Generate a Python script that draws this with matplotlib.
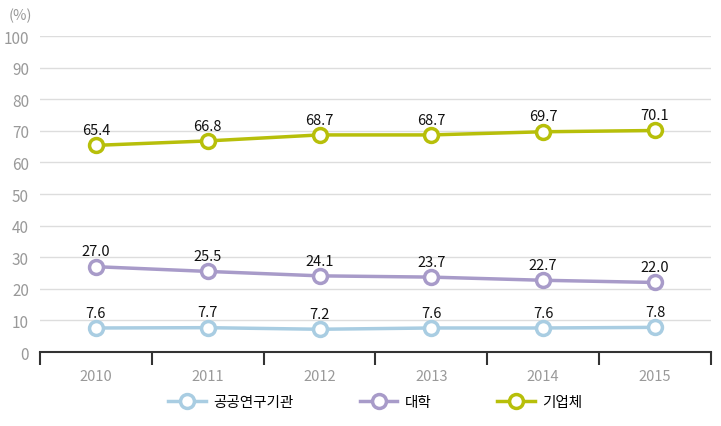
import matplotlib.pyplot as plt

plt.rcParams['font.family'] = ['Noto Sans CJK KR', 'DejaVu Sans']

years = ['2010', '2011', '2012', '2013', '2014', '2015']
public_lab = [7.6, 7.7, 7.2, 7.6, 7.6, 7.8]
university = [27.0, 25.5, 24.1, 23.7, 22.7, 22.0]
company = [65.4, 66.8, 68.7, 68.7, 69.7, 70.1]
names = ['공공연구기관', '대학', '기업체']
colors = ['#a9cde2', '#a89bc9', '#b7bf0a']

fig = plt.figure(figsize=(7.21, 4.27), dpi=100)
ax = fig.add_axes([0.0555, 0.1733, 0.9305, 0.74])

x = range(len(years))
for vals, name, c in zip([public_lab, university, company], names, colors):
    ax.plot(x, vals, color=c, lw=2.5, marker='o', ms=10, mfc='white',
            mec=c, mew=2.5, label=name, zorder=3)
    for xi, v in zip(x, vals):
        ax.annotate(f'{v:.1f}', (xi, v), xytext=(0, 6), textcoords='offset points',
                    ha='center', va='bottom', fontsize=10.5, color='#111111',
                    fontweight='medium')

ax.set_xlim(-0.5, 5.5)
ax.set_ylim(0, 100)
ax.set_yticks(range(0, 101, 10))
ax.set_xticks(x)
ax.set_xticklabels(years)
ax.set_xticks([i - 0.5 for i in range(7)], minor=True)
ax.tick_params(axis='x', which='major', length=0, pad=12, labelsize=10.5, labelcolor='#999999')
ax.tick_params(axis='x', which='minor', length=9, width=1.5, color='#333333', direction='out')
ax.tick_params(axis='y', length=0, pad=8, labelsize=11, labelcolor='#999999')
ax.grid(axis='y', color='#dddddd', lw=1)
ax.set_axisbelow(True)
for s in ['top', 'right', 'left']:
    ax.spines[s].set_visible(False)
ax.spines['bottom'].set_color('#333333')
ax.spines['bottom'].set_linewidth(1.5)

fig.text(0.028, 0.962, '(%)', fontsize=10.5, color='#999999', ha='center', va='center')

ax.legend(loc='upper center', bbox_to_anchor=(0.5, -0.095), ncol=3, frameon=False,
          handlelength=2.6, columnspacing=4.5, handletextpad=0.5,
          prop={'family': ['Noto Sans CJK KR', 'DejaVu Sans'], 'size': 10.5})

fig.savefig('out.png', dpi=100)
